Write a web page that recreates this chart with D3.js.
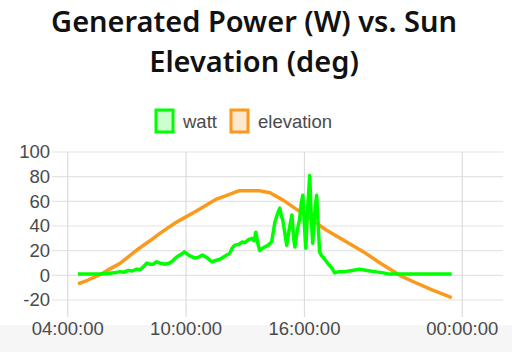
<!DOCTYPE html>
<html lang="en">
<head>
  <meta charset="utf-8">
  <title>Generated Power vs. Sun Elevation</title>
  <script src="https://d3js.org/d3.v7.min.js"></script>
  <style>
    body { margin: 0; background: #fff; }
    #chart { width: 512px; height: 352px; }
  </style>
</head>
<body>
  <div id="chart"></div>
  <script>
    // series data: time of day (HH:MM) and value
    var wattTimes = ["04:31", "05:38", "06:00", "06:20", "06:39", "06:50", "07:05", "07:15", "07:30", "07:40",
      "07:50", "08:01", "08:10", "08:20", "08:30", "08:40", "08:55", "09:10", "09:20", "09:32",
      "09:45", "09:55", "10:10", "10:27", "10:40", "10:50", "11:05", "11:18", "11:30", "11:43",
      "11:55", "12:13", "12:20", "12:28", "12:40", "12:50", "12:59", "13:10", "13:20", "13:27",
      "13:32", "13:38", "13:44", "13:52", "13:59", "14:10", "14:20", "14:25", "14:30", "14:38",
      "14:45", "14:50", "14:54", "15:00", "15:06", "15:14", "15:22", "15:27", "15:31", "15:38",
      "15:45", "15:50", "15:55", "16:00", "16:04", "16:10", "16:16", "16:21", "16:25", "16:31",
      "16:37", "16:42", "16:46", "16:52", "16:59", "17:10", "17:23", "17:32", "17:45", "18:02",
      "18:25", "18:48", "19:10", "19:34", "20:00", "20:19", "23:28"];
    var wattValues = [1, 1, 1.5, 2, 3, 2.5, 4, 3.5, 5, 4.5,
      7, 10, 9, 9, 11, 10, 9, 10, 12, 15,
      17, 19, 16, 14, 15, 16.5, 14, 11, 12, 13,
      15, 18, 22, 24.5, 25, 27, 26.5, 29, 30, 28,
      35, 26, 20, 22, 23, 24.5, 27, 35, 43, 50,
      54.5, 48, 45, 35, 24.5, 38, 49, 30, 23, 36,
      45, 58, 65, 40, 22, 55, 81, 45, 26, 50,
      65, 40, 19, 16, 14, 10, 6, 2, 3, 3,
      4, 5, 4, 3, 2, 1, 1];

    var elevTimes = ["04:31", "05:00", "05:38", "06:00", "06:39", "07:30", "08:10", "08:40", "09:30", "09:50",
      "10:30", "11:30", "12:00", "12:40", "13:45", "14:15", "14:55", "15:55", "17:05", "18:15",
      "19:00", "19:50", "20:50", "21:30", "22:30", "23:28"];
    var elevValues = [-7, -4, 0.5, 4, 9.7, 20.5, 28, 34, 43, 46,
      52, 61.5, 64.5, 68.5, 68.5, 67, 61, 50, 37, 26,
      19, 10, 0, -5, -12, -18];

    var xTickTimes = ["04:00", "10:00", "16:00", "24:00"];
    var yTickValues = [-20, 0, 20, 40, 60, 80, 100];
    var legendNames = ["watt", "elevation"];
    var titleLines = ["Generated Power (W) vs. Sun", "Elevation (deg)"];

    function toDate(s) {
      var p = s.split(":");
      return new Date(2021, 5, 1, +p[0], +p[1]);
    }

    var colors = { watt: "#00ff00", elevation: "#f99a1c" };
    var fills = { watt: "#ccffcc", elevation: "#fde8cf" };

    var svg = d3.select("#chart").append("svg")
      .attr("width", 512)
      .attr("height", 352);

    // grey strip at the bottom of the page
    svg.append("rect")
      .attr("x", 0).attr("y", 325)
      .attr("width", 512).attr("height", 27)
      .attr("fill", "#f6f6f6");

    // title
    svg.selectAll(".title")
      .data(titleLines)
      .enter()
      .append("text")
      .attr("class", "title")
      .attr("x", 254)
      .attr("y", function (d, i) { return 32 + i * 40; })
      .attr("text-anchor", "middle")
      .style("font-family", "'Noto Sans', 'Open Sans', sans-serif")
      .style("font-weight", 600)
      .style("font-size", "29px")
      .style("fill", "#111")
      .text(function (d) { return d; });

    var x = d3.scaleTime()
      .domain([toDate("03:12"), toDate("26:04")])
      .range([52, 503]);

    var y = d3.scaleLinear()
      .domain([-20, 100])
      .range([300, 152]);

    // grid lines
    svg.append("g")
      .selectAll("line")
      .data(yTickValues)
      .enter()
      .append("line")
      .attr("x1", 52).attr("x2", 503)
      .attr("y1", function (d) { return y(d); })
      .attr("y2", function (d) { return y(d); })
      .attr("stroke", "#e4e4e4")
      .attr("stroke-width", 1.2);

    svg.append("g")
      .selectAll("line")
      .data(xTickTimes)
      .enter()
      .append("line")
      .attr("x1", function (d) { return x(toDate(d)); })
      .attr("x2", function (d) { return x(toDate(d)); })
      .attr("y1", 152).attr("y2", 317)
      .attr("stroke", "#dcdcdc")
      .attr("stroke-width", 1.2);

    // tick labels
    svg.append("g")
      .selectAll("text")
      .data(yTickValues)
      .enter()
      .append("text")
      .attr("x", 50)
      .attr("y", function (d) { return y(d); })
      .attr("dy", "0.35em")
      .attr("text-anchor", "end")
      .style("font-family", "'Liberation Sans', Arial, sans-serif")
      .style("font-size", "18.5px")
      .style("fill", "#4a4a4a")
      .text(function (d) { return d; });

    var fmt = d3.timeFormat("%H:%M:%S");
    svg.append("g")
      .selectAll("text")
      .data(xTickTimes)
      .enter()
      .append("text")
      .attr("x", function (d) { return x(toDate(d)); })
      .attr("y", 335)
      .attr("text-anchor", "middle")
      .style("font-family", "'Liberation Sans', Arial, sans-serif")
      .style("font-size", "18.5px")
      .style("fill", "#4a4a4a")
      .text(function (d) { return fmt(toDate(d)); });

    // lines
    var line = d3.line()
      .x(function (d) { return x(toDate(d.t)); })
      .y(function (d) { return y(d.v); });

    var elevData = elevTimes.map(function (t, i) { return { t: t, v: elevValues[i] }; });
    var wattData = wattTimes.map(function (t, i) { return { t: t, v: wattValues[i] }; });

    svg.append("path")
      .datum(elevData)
      .attr("d", line)
      .attr("fill", "none")
      .attr("stroke", colors.elevation)
      .attr("stroke-width", 3.5)
      .attr("stroke-linejoin", "round");

    svg.append("path")
      .datum(wattData)
      .attr("d", line)
      .attr("fill", "none")
      .attr("stroke", colors.watt)
      .attr("stroke-width", 3.5)
      .attr("stroke-linejoin", "round");

    // legend
    var legendX = [156, 231];
    var legend = svg.append("g")
      .selectAll("g")
      .data(legendNames)
      .enter()
      .append("g")
      .attr("transform", function (d, i) { return "translate(" + legendX[i] + ",110)"; });

    legend.append("rect")
      .attr("width", 17).attr("height", 22)
      .attr("fill", function (d) { return fills[d]; })
      .attr("stroke", function (d) { return colors[d]; })
      .attr("stroke-width", 3);

    legend.append("text")
      .attr("x", 27)
      .attr("y", 18)
      .style("font-family", "'Liberation Sans', Arial, sans-serif")
      .style("font-size", "18.5px")
      .style("fill", "#4a4a4a")
      .text(function (d) { return d; });
  </script>
</body>
</html>
